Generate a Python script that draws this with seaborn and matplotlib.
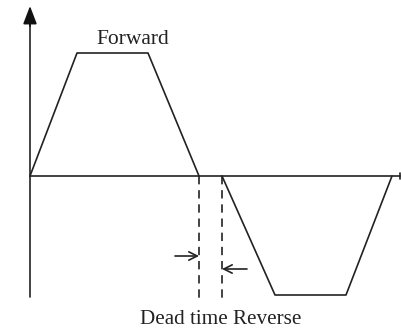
import matplotlib
matplotlib.use("Agg")
import matplotlib.pyplot as plt
import seaborn as sns
import pandas as pd

# waveform corners (time, amplitude) in arbitrary units, origin at axis crossing
forward_t = [0, 47, 118, 169]
forward_v = [0, 123, 123, 0]
reverse_t = [192, 245, 316, 362]
reverse_v = [0, -119, -119, 0]

dead_start = 169
dead_end = 192
label_forward = "Forward"
label_bottom = "Dead time Reverse"

sns.set_style("white")
plt.rcParams["font.family"] = ["Liberation Serif", "DejaVu Serif"]

fig = plt.figure(figsize=(4.01, 3.28), dpi=100)
ax = fig.add_axes([0, 0, 1, 1])
ax.set_xlim(-30, 371)
ax.set_ylim(-152, 176)
ax.axis("off")

lw = 1.2
df = pd.concat([
    pd.DataFrame({"t": forward_t, "v": forward_v, "dir": "Forward"}),
    pd.DataFrame({"t": reverse_t, "v": reverse_v, "dir": "Reverse"}),
])
sns.lineplot(data=df, x="t", y="v", units="dir", estimator=None, sort=False,
             color="#222222", lw=lw, ax=ax, legend=False)

# axes of the sketch
ax.plot([0, 370], [0, 0], color="#222222", lw=lw)
ax.plot([370, 370], [-3, 3], color="#222222", lw=lw)
ax.plot([0, 0], [-121, 155], color="#222222", lw=lw)
ax.annotate("", xy=(0, 170), xytext=(0, 150),
            arrowprops=dict(arrowstyle="-|>,head_length=1.1,head_width=0.42",
                            color="#111111", lw=lw, shrinkA=0, shrinkB=0))

# dead time markers
for x in (dead_start, dead_end):
    ax.plot([x, x], [0, -124], color="#222222", lw=lw, ls=(0, (5, 3.5)))
ax.annotate("", xy=(dead_start, -80), xytext=(dead_start - 24, -80),
            arrowprops=dict(arrowstyle="->,head_length=0.6,head_width=0.3",
                            color="#222222", lw=lw, shrinkA=0, shrinkB=0))
ax.annotate("", xy=(dead_end, -93), xytext=(dead_end + 25, -93),
            arrowprops=dict(arrowstyle="->,head_length=0.6,head_width=0.3",
                            color="#222222", lw=lw, shrinkA=0, shrinkB=0))

ax.text(103, 132, label_forward, ha="center", va="baseline", fontsize=15.5,
        color="#222222")
ax.text(191, -148, label_bottom, ha="center", va="baseline", fontsize=15.2,
        color="#222222")

fig.savefig("out.png", dpi=100)
